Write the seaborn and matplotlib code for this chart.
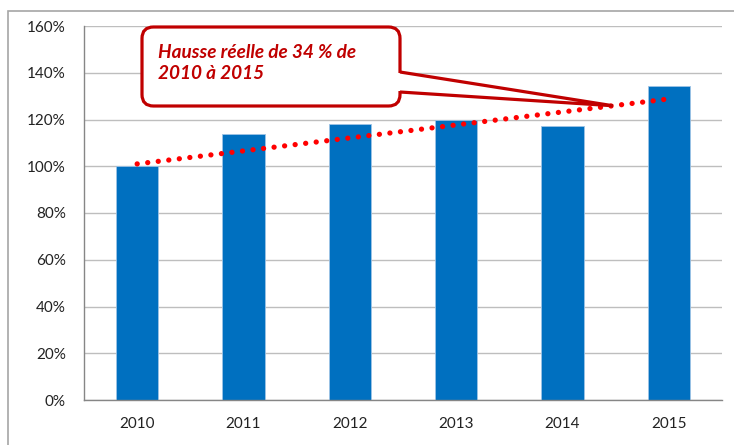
import numpy as np
import pandas as pd
import matplotlib.pyplot as plt
import seaborn as sns
from matplotlib.patches import FancyBboxPatch, Polygon, Rectangle
from matplotlib.ticker import PercentFormatter

years = ['2010', '2011', '2012', '2013', '2014', '2015']
values = [100.0, 113.8, 118.1, 119.8, 117.3, 134.4]
trend = [101.0, 128.8]          # dotted trend, first and last year
trend_pos = [0, 5]
callout_text = 'Hausse réelle de 34 % de\n2010 à 2015'
callout_at = 4.475              # where the pointer touches the trend
yticks = [0, 20, 40, 60, 80, 100, 120, 140, 160]

sns.set_style('white')
plt.rcParams['font.family'] = ['Lato', 'DejaVu Sans']

df = pd.DataFrame({'year': years, 'value': values})

W, H = 734, 445
fig = plt.figure(figsize=(W / 100, H / 100), dpi=100)
ax = fig.add_axes([84 / W, 1 - 400 / H, 638 / W, 374 / H])

sns.barplot(data=df, x='year', y='value', color='#0070C0', saturation=1,
            width=0.4, edgecolor='#9DC3E6', linewidth=0.6, ax=ax, zorder=2)

ax.set_xlim(-0.5, 5.5)
ax.set_ylim(0, 160)

# dotted red trend line
ax.plot(trend_pos, trend, color='#FF0000', lw=3.8, linestyle=(0, (0.01, 2.0)),
        dash_capstyle='round', zorder=4)

# axes styling
ax.set_xlabel('')
ax.set_ylabel('')
ax.set_yticks(yticks)
ax.yaxis.set_major_formatter(PercentFormatter(decimals=0))
ax.yaxis.grid(True, color='#BEBEBE', lw=1)
ax.set_axisbelow(True)
for s in ['top', 'right']:
    ax.spines[s].set_visible(False)
for s in ['left', 'bottom']:
    ax.spines[s].set_color('#868686')
    ax.spines[s].set_linewidth(1)
ax.tick_params(axis='y', length=4, color='#868686', pad=9, labelsize=11, labelcolor='#222222')
ax.tick_params(axis='x', which='major', length=0, pad=12, labelsize=11, labelcolor='#222222')
ax.set_xticks(np.arange(-0.5, 6, 1), minor=True)
ax.tick_params(axis='x', which='minor', length=5, color='#868686')

# callout box
x0, x1 = (142 - 84) / 638, (400 - 84) / 638
y0, y1 = (400 - 106) / 374, (400 - 27) / 374
box = FancyBboxPatch((x0, y0), x1 - x0, y1 - y0,
                     boxstyle='round,pad=0,rounding_size=0.018',
                     mutation_aspect=638 / 374, transform=ax.transAxes,
                     fc='white', ec='#C00000', lw=2.3, clip_on=False, zorder=5)
ax.add_patch(box)

yw_top, yw_bot = (400 - 72) / 374, (400 - 92) / 374
tip = ax.transAxes.inverted().transform(
    ax.transData.transform((callout_at, np.interp(callout_at, trend_pos, trend))))
ax.add_patch(Rectangle((x1 - 0.005, yw_bot + 0.004), 0.01, yw_top - yw_bot - 0.008,
                       transform=ax.transAxes, fc='white', ec='none', zorder=6, clip_on=False))
ax.add_patch(Polygon([(x1, yw_top), tuple(tip), (x1, yw_bot)], closed=False,
                     transform=ax.transAxes, fc='white', ec='#C00000', lw=2.3,
                     joinstyle='miter', zorder=7, clip_on=False))

ax.text((158 - 84) / 638, (400 - 44) / 374, callout_text, transform=ax.transAxes,
        color='#C00000', fontsize=13.7, fontweight='bold', fontstyle='italic',
        va='top', ha='left', linespacing=1.26, zorder=8)

# outer chart frame
fig.add_artist(Rectangle((8 / W, -0.05), 1.0, (H - 11) / H + 0.05,
                         transform=fig.transFigure, fill=False, ec='#A6A6A6', lw=1.2))

fig.savefig('out.png', dpi=100)
